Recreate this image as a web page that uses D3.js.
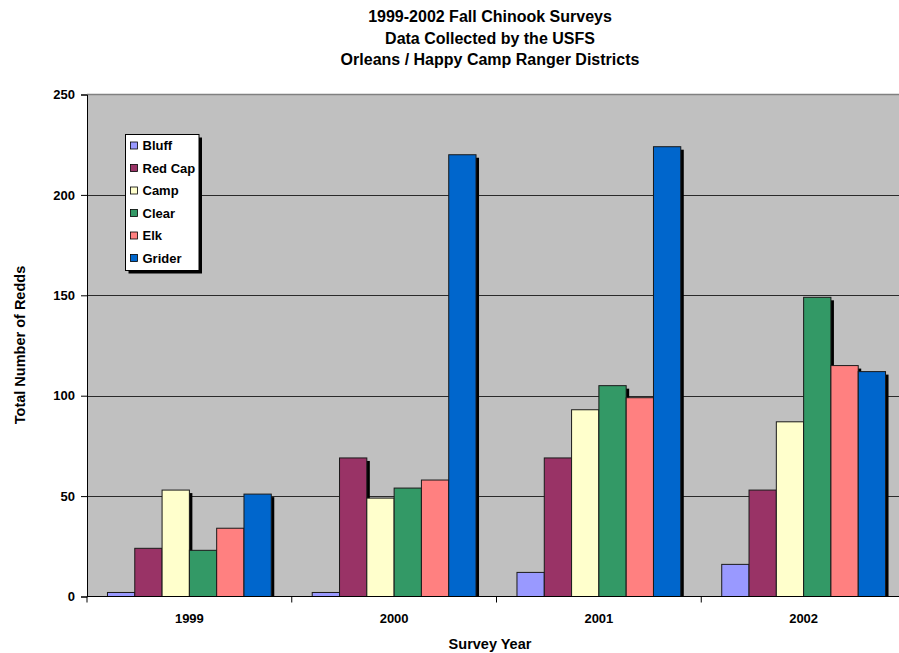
<!DOCTYPE html>
<html>
<head>
<meta charset="utf-8">
<script src="https://cdn.jsdelivr.net/npm/d3@7"></script>
<style>
  html, body { margin: 0; padding: 0; background: #fff; }
  svg { display: block; font-family: "Liberation Sans", Arial, sans-serif; }
</style>
</head>
<body>
<svg id="chart" width="899" height="653"></svg>
<script>
// Survey years on the x axis
const years = ["1999", "2000", "2001", "2002"];

// Redd counts per creek, one value per survey year
const bluff  = [2, 2, 12, 16];
const redCap = [24, 69, 69, 53];
const camp   = [53, 49, 93, 87];
const clear  = [23, 54, 105, 149];
const elk    = [34, 58, 99, 115];
const grider = [51, 220, 224, 112];

const seriesNames = ["Bluff", "Red Cap", "Camp", "Clear", "Elk", "Grider"];
const seriesValues = [bluff, redCap, camp, clear, elk, grider];
const seriesColors = ["#9999FF", "#993366", "#FFFFCC", "#339966", "#FF8080", "#0066CC"];

const yTicks = [0, 50, 100, 150, 200, 250];

const titleLines = [
  "1999-2002 Fall Chinook Surveys",
  "Data Collected by the USFS",
  "Orleans / Happy Camp Ranger Districts"
];

const svg = d3.select("#chart");

// Plot area (right edge runs past the window edge)
const plotL = 87, plotR = 906, plotT = 94.5, plotB = 596.5;

const x0 = d3.scaleBand().domain(years).range([plotL, plotR]).paddingInner(0).paddingOuter(0);
const bandW = x0.bandwidth();
// 150% gap between groups: band = 6 bars + 1.5 bar widths
const barW = bandW / 7.5;
const x1 = d3.scaleBand().domain(seriesNames)
  .range([barW * 0.75, bandW - barW * 0.75]).padding(0);
const y = d3.scaleLinear().domain([0, 250]).range([plotB, plotT]);

// Table built from the series arrays
const rows = [];
years.forEach((yr, i) => {
  seriesNames.forEach((s, j) => {
    rows.push({ year: yr, series: s, value: seriesValues[j][i], color: seriesColors[j] });
  });
});

svg.append("defs").append("clipPath").attr("id", "plotClip")
  .append("rect").attr("x", plotL).attr("y", plotT - 5).attr("width", plotR - plotL).attr("height", plotB - plotT + 5);

// Plot background
svg.append("rect")
  .attr("x", plotL).attr("y", plotT).attr("width", plotR - plotL).attr("height", plotB - plotT)
  .attr("fill", "#C0C0C0");
svg.append("line")
  .attr("x1", plotL).attr("x2", plotR).attr("y1", plotT).attr("y2", plotT)
  .attr("stroke", "#808080").attr("stroke-width", 1.5);

// Gridlines
svg.append("g").selectAll("line").data(yTicks.filter(d => d > 0 && d < 250)).join("line")
  .attr("x1", plotL).attr("x2", plotR)
  .attr("y1", d => Math.round(y(d)) + 0.5).attr("y2", d => Math.round(y(d)) + 0.5)
  .attr("stroke", "#2a2a2a").attr("stroke-width", 1);

// Bars with drop shadows
const barsG = svg.append("g").attr("clip-path", "url(#plotClip)");
barsG.selectAll("rect.shadow").data(rows).join("rect")
  .attr("class", "shadow")
  .attr("x", d => x0(d.year) + x1(d.series) + 3)
  .attr("y", d => y(d.value) + 3)
  .attr("width", x1.bandwidth())
  .attr("height", d => plotB - y(d.value))
  .attr("fill", "#000");
barsG.selectAll("rect.bar").data(rows).join("rect")
  .attr("class", "bar")
  .attr("x", d => x0(d.year) + x1(d.series))
  .attr("y", d => y(d.value))
  .attr("width", x1.bandwidth())
  .attr("height", d => plotB - y(d.value))
  .attr("fill", d => d.color)
  .attr("stroke", "#1a1a1a").attr("stroke-width", 1);

// Y axis
const yAxis = d3.axisLeft(y).tickValues(yTicks).tickSize(6).tickPadding(6);
const gy = svg.append("g").attr("transform", `translate(${plotL},0)`).call(yAxis);
gy.select(".domain").attr("stroke", "#000");
gy.selectAll(".tick line").attr("stroke", "#000");
gy.selectAll(".tick text")
  .attr("font-family", "'Liberation Sans', Arial, sans-serif")
  .attr("font-size", 13).attr("font-weight", "bold").attr("fill", "#000");

// X axis: tick marks at category boundaries, labels centred in each band
const gx = svg.append("g").attr("transform", `translate(0,${plotB})`);
gx.append("line").attr("x1", plotL).attr("x2", plotR).attr("y1", 0).attr("y2", 0)
  .attr("stroke", "#000");
gx.selectAll("line.tk").data(years).join("line").attr("class", "tk")
  .attr("x1", d => x0(d)).attr("x2", d => x0(d)).attr("y1", 0).attr("y2", 6)
  .attr("stroke", "#000");
gx.selectAll("text").data(years).join("text")
  .attr("x", d => x0(d) + bandW / 2).attr("y", 26.5)
  .attr("text-anchor", "middle")
  .attr("font-size", 13).attr("font-weight", "bold").attr("fill", "#000")
  .text(d => d);

// Axis titles
svg.append("text")
  .attr("x", 490).attr("y", 649)
  .attr("text-anchor", "middle")
  .attr("font-size", 14.5).attr("font-weight", "bold")
  .text("Survey Year");
svg.append("text")
  .attr("transform", "translate(24.5,345) rotate(-90)")
  .attr("text-anchor", "middle")
  .attr("font-size", 14.5).attr("font-weight", "bold")
  .text("Total Number of Redds");

// Title
svg.append("g").selectAll("text").data(titleLines).join("text")
  .attr("x", 490).attr("y", (d, i) => 22 + i * 21.7)
  .attr("text-anchor", "middle")
  .attr("font-size", 16).attr("font-weight", "bold")
  .text(d => d);

// Legend
const lg = svg.append("g").attr("transform", "translate(125.5,134.5)");
const lgW = 73.5, lgH = 136;
lg.append("rect").attr("x", 3).attr("y", 3).attr("width", lgW).attr("height", lgH).attr("fill", "#000");
lg.append("rect").attr("width", lgW).attr("height", lgH).attr("fill", "#fff")
  .attr("stroke", "#000").attr("stroke-width", 1);
const items = lg.selectAll("g.item").data(seriesNames).join("g").attr("class", "item")
  .attr("transform", (d, i) => `translate(0,${11 + i * 22.5})`);
items.append("rect")
  .attr("x", 5).attr("y", -3.5).attr("width", 7).attr("height", 7)
  .attr("fill", (d, i) => seriesColors[i]).attr("stroke", "#000").attr("stroke-width", 0.8);
items.append("text")
  .attr("x", 17).attr("y", 4.5)
  .attr("font-size", 13).attr("font-weight", "bold")
  .text(d => d);
</script>
</body>
</html>
